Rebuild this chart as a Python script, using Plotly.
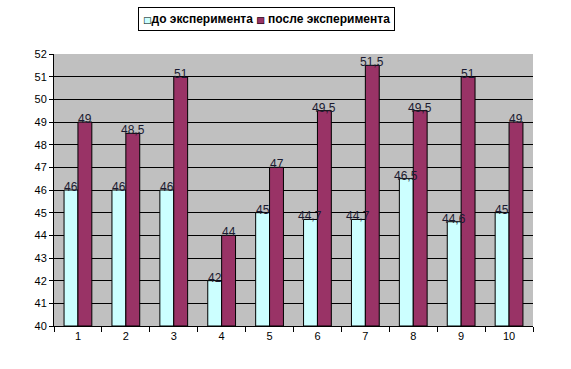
import plotly.graph_objects as go

categories = ["1", "2", "3", "4", "5", "6", "7", "8", "9", "10"]
before = [46, 46, 46, 42, 45, 44.7, 44.7, 46.5, 44.6, 45]
after = [49, 48.5, 51, 44, 47, 49.5, 51.5, 49.5, 51, 49]
series_names = ["до эксперимента", "после эксперимента"]
colors = ["#CCFFFF", "#993366"]
y_ticks = list(range(40, 53))


def fmt(v):
    s = ("%g" % v)
    return s.replace(".", ",")


fig = go.Figure()
for name, vals, col in zip(series_names, [before, after], colors):
    fig.add_trace(go.Bar(
        x=categories, y=[v - 40 for v in vals], base=40, name=name,
        marker=dict(color=col, line=dict(color="black", width=1)),
        showlegend=False,
    ))

# data labels on top of everything (x = category index on the category axis)
for vals, shift in [(before, -7), (after, 7)]:
    for i, v in enumerate(vals):
        fig.add_annotation(
            x=i, y=v, xref="x", yref="y", text=fmt(v), showarrow=False,
            xshift=shift, yshift=3, yanchor="middle", xanchor="center",
            font=dict(family="Arial", size=12, color="#1a1a30"),
        )

# legend box: filled squares, then outlines overlaid with identical layout
T = "rgba(0,0,0,0)"
TXT = "font-family:Arial;font-size:12px;font-weight:bold"
leg_fill = ("<span style='color:%s'>■</span>"
            "<span style='%s'>до эксперимента </span>"
            "<span style='color:%s'>■</span>"
            "<span style='%s'> после эксперимента</span>") % (colors[0], TXT, colors[1], TXT)
leg_edge = ("<span style='color:black'>□</span>"
            "<span style='%s;color:%s'>до эксперимента </span>"
            "<span style='color:black'>□</span>"
            "<span style='%s;color:%s'> после эксперимента</span>") % (TXT, T, TXT, T)
for txt, bc, bg in [(leg_fill, "black", "white"), (leg_edge, T, T)]:
    fig.add_annotation(
        x=(266 - 54) / 479, y=1 + (54 - 19.5) / 272, xref="paper", yref="paper",
        text=txt, showarrow=False,
        xanchor="center", yanchor="middle",
        font=dict(family="DejaVu Sans", size=9, color="black"),
        bordercolor=bc, borderwidth=1, borderpad=4, bgcolor=bg,
    )

fig.update_layout(
    width=571, height=369,
    margin=dict(l=54, r=38, t=54, b=43, autoexpand=False),
    paper_bgcolor="white",
    plot_bgcolor="#C0C0C0",
    barmode="group",
    bargap=0.42,
    bargroupgap=0,
    font=dict(family="Arial", size=11, color="black"),
    xaxis=dict(
        type="category", showline=True, linecolor="black", linewidth=1,
        ticks="outside", tickson="boundaries", ticklen=5, tickcolor="black",
        showgrid=False, tickfont=dict(family="Arial", size=11, color="black"),
    ),
    yaxis=dict(
        range=[40, 52], tickvals=y_ticks, showline=True, linecolor="black",
        linewidth=1, ticks="outside", ticklen=4, tickcolor="black",
        showgrid=True, gridcolor="black", gridwidth=1,
        tickfont=dict(family="Arial", size=11, color="black"), zeroline=False,
    ),
)

fig.write_html("out.html", config={"displayModeBar": False},
               post_script="document.body.style.margin='0';")
